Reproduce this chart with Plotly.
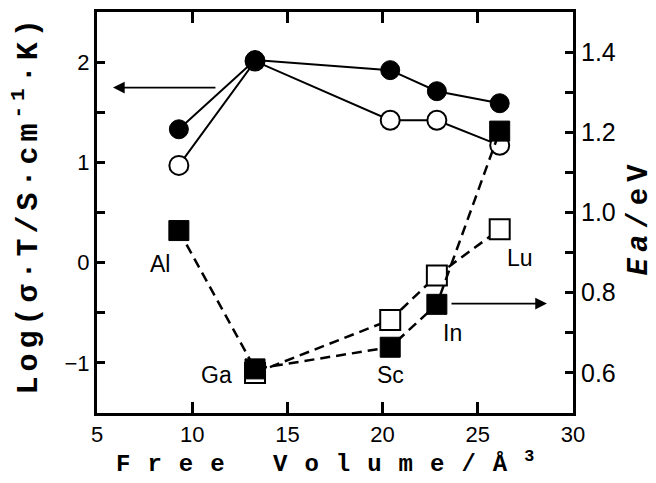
import plotly.graph_objects as go

# Free volume (Å^3) for Al, Ga, Sc, In, Lu
free_volume = [9.3, 13.3, 20.4, 22.85, 26.15]
labels = ["Al", "Ga", "Sc", "In", "Lu"]

# log(sigma*T) – left axis
log_sigT_filled = [1.33, 2.02, 1.92, 1.71, 1.59]
log_sigT_open = [0.97, 2.01, 1.42, 1.42, 1.17]

# Activation energy Ea (eV) – right axis
ea_filled = [0.955, 0.61, 0.664, 0.771, 1.203]
ea_open_x = [13.3, 20.4, 22.85, 26.15]
ea_open = [0.60, 0.732, 0.843, 0.958]

# label positions (x, Ea)
label_x = [8.3, 11.3, 20.4, 23.65, 27.2]
label_y = [0.872, 0.595, 0.595, 0.70, 0.886]

fig = go.Figure()

fig.add_trace(go.Scatter(
    x=ea_open_x, y=ea_open, yaxis="y2", mode="lines+markers",
    line=dict(color="black", width=2.5, dash="10px,6px"),
    marker=dict(symbol="square", size=20, color="white",
                line=dict(color="black", width=2)),
    showlegend=False))
fig.add_trace(go.Scatter(
    x=free_volume, y=ea_filled, yaxis="y2", mode="lines+markers",
    line=dict(color="black", width=2.5, dash="10px,6px"),
    marker=dict(symbol="square", size=20, color="black",
                line=dict(color="black", width=1)),
    showlegend=False))
fig.add_trace(go.Scatter(
    x=free_volume, y=log_sigT_open, mode="lines+markers",
    line=dict(color="black", width=2),
    marker=dict(symbol="circle", size=19, color="white",
                line=dict(color="black", width=2)),
    showlegend=False))
fig.add_trace(go.Scatter(
    x=free_volume, y=log_sigT_filled, mode="lines+markers",
    line=dict(color="black", width=2),
    marker=dict(symbol="circle", size=19, color="black",
                line=dict(color="black", width=1)),
    showlegend=False))

annotations = []
for lx, ly, t in zip(label_x, label_y, labels):
    annotations.append(dict(x=lx, y=ly, xref="x", yref="y2", text=t,
                            showarrow=False,
                            font=dict(family="Liberation Sans", size=23, color="black")))

# arrows
annotations.append(dict(x=5.84, y=1.746, ax=11.3, ay=1.746, xref="x", yref="y",
                        axref="x", ayref="y", text="", showarrow=True,
                        arrowhead=2, arrowsize=1.3, arrowwidth=1.8, arrowcolor="black"))
annotations.append(dict(x=28.63, y=0.773, ax=23.54, ay=0.773, xref="x", yref="y2",
                        axref="x", ayref="y2", text="", showarrow=True,
                        arrowhead=2, arrowsize=1.3, arrowwidth=1.8, arrowcolor="black"))

# axis titles
annotations.append(dict(
    x=27, y=203, xref="paper", yref="paper", showarrow=False, textangle=-90,
    text='<span style="letter-spacing:5px"><b>Log(σ·T/S·cm<sup>-1</sup>·K)</b></span>',
    font=dict(family="Liberation Mono", size=30, color="black")))
annotations.append(dict(
    x=333, y=463, xref="paper", yref="paper", showarrow=False,
    text='<span style="letter-spacing:17px"><b>Free Volume/Å<sup>3</sup></b></span>',
    font=dict(family="Liberation Mono", size=24, color="black")))
annotations.append(dict(
    x=639, y=216, xref="paper", yref="paper", showarrow=False, textangle=-90,
    text='<span style="letter-spacing:6px"><b><i>Ea</i>/eV</b></span>',
    font=dict(family="Liberation Mono", size=29, color="black")))

W, H = 656, 483
L, R, T, B = 97, 83, 9, 70
pw, ph = W - L - R, H - T - B
for a in annotations:
    if a.get("xref") == "paper":
        a["x"] = (a["x"] - L) / pw
        a["y"] = 1 - (a["y"] - T) / ph
        a["xanchor"] = "center"
        a["yanchor"] = "middle"

fig.update_layout(
    width=W, height=H,
    margin=dict(l=L, r=R, t=T, b=B, pad=0),
    paper_bgcolor="white", plot_bgcolor="white",
    showlegend=False,
    annotations=annotations,
    xaxis=dict(range=[5, 30], tickvals=[5, 10, 15, 20, 25, 30],
               ticks="inside", ticklen=11, tickwidth=2.5, tickcolor="black",
               showline=True, linewidth=3, linecolor="black", mirror="ticks",
               showgrid=False, zeroline=False,
               tickfont=dict(family="Liberation Sans", size=22, color="black")),
    yaxis=dict(range=[-1.5, 2.5], tickvals=[-1, 0, 1, 2],
               ticktext=["−1", "0", "1", "2"],
               ticks="inside", ticklen=8, tickwidth=2.5, tickcolor="black",
               minor=dict(tickvals=[-0.5, 0.5, 1.5], ticks="inside", ticklen=8,
                          tickwidth=2.5, tickcolor="black"),
               showline=True, linewidth=3, linecolor="black",
               showgrid=False, zeroline=False,
               tickfont=dict(family="Liberation Sans", size=22, color="black")),
    yaxis2=dict(range=[0.5, 1.5], overlaying="y", side="right",
                tickvals=[0.6, 0.8, 1.0, 1.2, 1.4],
                ticktext=["0.6", "0.8", "1.0", "1.2", "1.4"],
                ticks="inside", ticklen=8, tickwidth=2.5, tickcolor="black",
                minor=dict(tickvals=[0.7, 0.9, 1.1, 1.3], ticks="inside", ticklen=8,
                           tickwidth=2.5, tickcolor="black"),
                showline=True, linewidth=3, linecolor="black",
                showgrid=False, zeroline=False,
                tickfont=dict(family="Liberation Sans", size=25, color="black")),
)

fig.write_html("out.html")
